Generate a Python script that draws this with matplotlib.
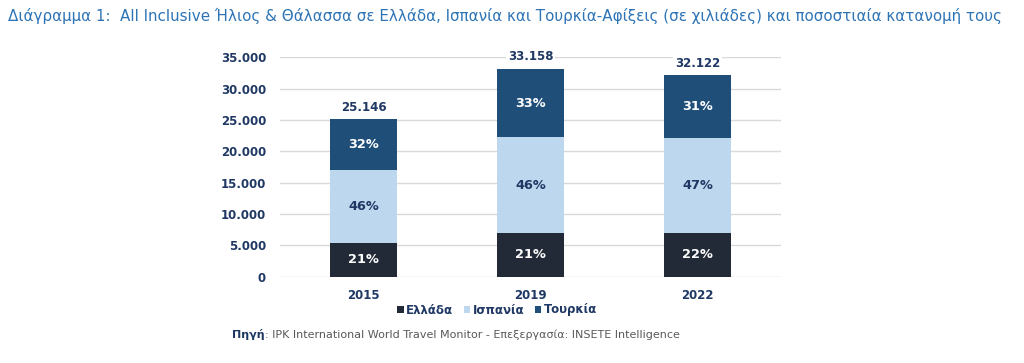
import matplotlib
matplotlib.use("Agg")
import matplotlib.pyplot as plt
import numpy as np

years = ["2015", "2019", "2022"]
greece = [5381, 6963, 7000]
spain = [11668, 15253, 15170]
turkey = [8097, 10942, 9952]
totals = [25146, 33158, 32122]
pct_greece = ["21%", "21%", "22%"]
pct_spain = ["46%", "46%", "47%"]
pct_turkey = ["32%", "33%", "31%"]
series_names = ["Ελλάδα", "Ισπανία", "Τουρκία"]
yticks = [0, 5000, 10000, 15000, 20000, 25000, 30000, 35000]
ytick_labels = ["0", "5.000", "10.000", "15.000", "20.000", "25.000", "30.000", "35.000"]

c_gr = "#222a38"
c_es = "#bdd7ee"
c_tr = "#1f4e79"
navy = "#1f3864"

plt.rcParams['font.family'] = ['DejaVu Sans']

fig = plt.figure(figsize=(10.24, 3.63), dpi=100)
ax = fig.add_axes([0.2734, 0.2377, 0.4893, 0.6043])

x = np.arange(len(years))
w = 0.4
b1 = ax.bar(x, greece, w, color=c_gr, label=series_names[0], zorder=3)
b2 = ax.bar(x, spain, w, bottom=greece, color=c_es, label=series_names[1], zorder=3)
bottom3 = np.array(greece) + np.array(spain)
b3 = ax.bar(x, turkey, w, bottom=bottom3, color=c_tr, label=series_names[2], zorder=3)

fs = 8.5
pfs = 9.3
for i in range(len(years)):
    ax.text(x[i], greece[i] / 2, pct_greece[i], ha="center", va="center",
            color="white", fontsize=pfs, fontweight="bold", zorder=4)
    ax.text(x[i], greece[i] + spain[i] / 2, pct_spain[i], ha="center", va="center",
            color=navy, fontsize=pfs, fontweight="bold", zorder=4)
    ax.text(x[i], bottom3[i] + turkey[i] / 2, pct_turkey[i], ha="center", va="center",
            color="white", fontsize=pfs, fontweight="bold", zorder=4)
    ax.annotate(f"{totals[i]:,}".replace(",", "."), (x[i], totals[i]),
                xytext=(0, 4), textcoords="offset points", ha="center", va="bottom",
                color=navy, fontsize=fs, fontweight="bold", zorder=4,
                bbox=dict(facecolor="white", edgecolor="none", pad=1))

ax.set_xlim(-0.5, 2.5)
ax.set_ylim(0, 35000)
ax.set_yticks(yticks)
ax.set_yticklabels(ytick_labels)
ax.set_xticks(x)
ax.set_xticklabels(years)
ax.yaxis.grid(True, color="#d9d9d9", linewidth=1, zorder=0)
ax.set_axisbelow(True)
for s in ax.spines.values():
    s.set_visible(False)
ax.tick_params(axis="both", length=0, labelsize=fs, labelcolor=navy)
ax.tick_params(axis="y", pad=10)
ax.tick_params(axis="x", pad=9)
for lbl in ax.get_xticklabels() + ax.get_yticklabels():
    lbl.set_fontweight("bold")

leg = fig.legend(handles=[b1, b2, b3], labels=series_names, loc="center",
                 bbox_to_anchor=(497 / 1024, 1 - 310 / 363), ncol=3, frameon=False,
                 handlelength=0.55, handleheight=0.55, handletextpad=0.2, columnspacing=0.9,
                 prop={"weight": "bold", "size": fs})
for t in leg.get_texts():
    t.set_color(navy)

fig.text(8 / 1024, 1 - 16 / 363,
         "Διάγραμμα 1:  All Inclusive Ήλιος & Θάλασσα σε Ελλάδα, Ισπανία και Τουρκία-Αφίξεις (σε χιλιάδες) και ποσοστιαία κατανομή τους",
         ha="left", va="center", color="#2e74b5", fontsize=10.9)

t1 = fig.text(232 / 1024, 1 - 335 / 363, "Πηγή", ha="left", va="center",
              color=navy, fontsize=8.0, fontweight="bold")
fig.canvas.draw()
bb = t1.get_window_extent()
fig.text(bb.x1 / 1024, 1 - 335 / 363,
         ": IPK International World Travel Monitor - Επεξεργασία: INSETE Intelligence",
         ha="left", va="center", color="#595959", fontsize=8.0)

fig.savefig("out.png", dpi=100, facecolor="white")
